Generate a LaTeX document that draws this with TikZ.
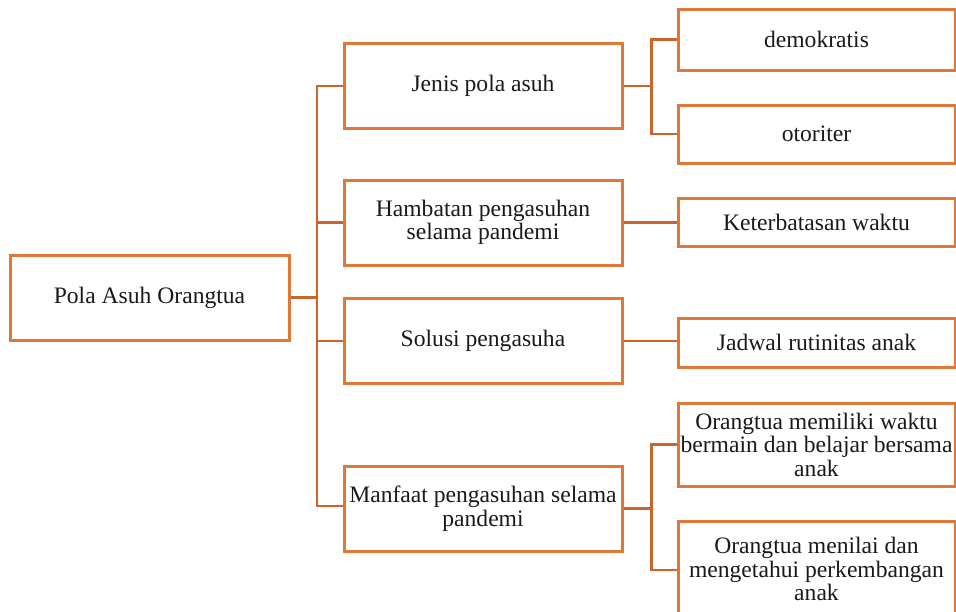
\documentclass[tikz,border=0pt]{standalone}
\usepackage{fontspec}
\setmainfont{Liberation Serif}
\definecolor{boxline}{HTML}{DF7836}
\definecolor{linkline}{HTML}{C9652B}
\definecolor{ink}{HTML}{1A1A1A}
\begin{document}
\begin{tikzpicture}[x=1pt,y=-1pt,
  box/.style={draw=boxline, line width=3pt, fill=white, text=ink,
    align=center, inner sep=0.5pt, font=\fontsize{23.6}{23.5}\selectfont},
  rootbox/.style={box, minimum width=279pt, minimum height=85pt},
  midbox/.style={box, minimum width=278pt, minimum height=85pt},
  leafbox/.style={box, minimum width=277pt},
  link/.style={draw=linkline, line width=2.8pt}]
\useasboundingbox (0,0) rectangle (956,611);
\clip (0,0) rectangle (956,611);

% root
\node[rootbox] (root) at (149.5,297.5) {Pola Asuh Orangtua};

% first level
\node[midbox] (jenis)    at (483,86)    {Jenis pola asuh};
\node[midbox] (hambatan) at (483,222.5) {Hambatan pengasuhan\\selama pandemi};
\node[midbox] (solusi)   at (483,341)   {Solusi pengasuha};
\node[midbox] (manfaat)  at (483,508.5) {Manfaat pengasuhan selama\\pandemi};

% second level
\node[leafbox, minimum height=61pt] (demo)  at (816.5,39.5)  {demokratis};
\node[leafbox, minimum height=58pt] (otor)  at (816.5,134)   {otoriter};
\node[leafbox, minimum height=48pt] (keter) at (816.5,222)   {Keterbatasan waktu};
\node[leafbox, minimum height=49pt] (jadwal) at (816.5,342.5) {Jadwal rutinitas anak};
\node[leafbox, minimum height=83pt] (waktu) at (816.5,444.5) {Orangtua memiliki waktu\\bermain dan belajar bersama\\anak};
\node[leafbox, minimum height=96pt] (nilai) at (816.5,569) {Orangtua menilai dan\\mengetahui perkembangan\\anak};

% trunk from the root to the first level
\coordinate (trunk) at (317,297.5);
\draw[link] (root.east) -- (trunk);
\draw[link] (trunk) |- (jenis.west);
\draw[link] (trunk) |- (hambatan.west);
\draw[link] (trunk) |- (solusi.west);
\draw[link] (trunk) |- ([yshift=2.5pt]manfaat.west);

% branches to the second level
\draw[link] (jenis.east) -- ++(28,0) coordinate (jb);
\draw[link] (jb) |- (demo.west);
\draw[link] (jb) |- (otor.west);
\draw[link] (hambatan.east) -- (keter.west |- hambatan.east);
\draw[link] (solusi.east) -- (jadwal.west |- solusi.east);
\draw[link] (manfaat.east) -- ++(28,0) coordinate (mb);
\draw[link] (mb) |- (waktu.west);
\draw[link] (mb) |- ([yshift=-1pt]nilai.west);
\end{tikzpicture}
\end{document}
